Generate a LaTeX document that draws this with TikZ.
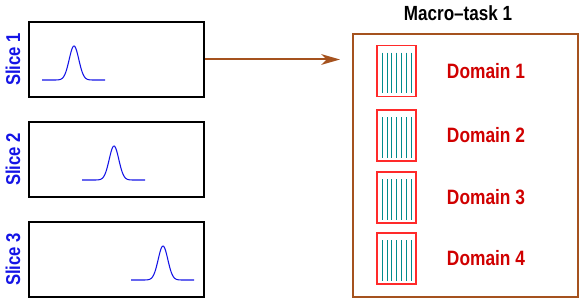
\documentclass[tikz,border=0pt]{standalone}
\usepackage{fontspec}
\setmainfont{Liberation Sans}
\usepackage{graphicx}
\usepackage{xcolor}
\usetikzlibrary{arrows.meta}
\definecolor{sliceBlue}{HTML}{1414E6}
\definecolor{taskBrown}{HTML}{A5521E}
\definecolor{domRed}{HTML}{FF2A2A}
\definecolor{domText}{HTML}{D00000}
\definecolor{stripeTeal}{HTML}{008C8C}
\newcommand{\tallText}[1]{\scalebox{1}[1.2]{#1}}

\begin{document}
\begin{tikzpicture}[x=0.75pt,y=-0.75pt]
  \tikzset{
    slicebox/.style={draw=black,line width=1.4pt,minimum width=131.25pt,minimum height=56.25pt,inner sep=0pt},
    slicetag/.style={font=\fontsize{12.5}{14}\selectfont\bfseries,text=sliceBlue,rotate=90,inner sep=0pt},
    pulse/.style={draw=sliceBlue,line width=0.8pt,line join=round},
    macrobox/.style={draw=taskBrown,line width=1.5pt,minimum width=168.75pt,minimum height=197.25pt,inner sep=0pt},
    macrotag/.style={font=\fontsize{12.8}{15}\selectfont\bfseries,inner sep=0pt},
    dombox/.style={draw=domRed,line width=1.4pt,minimum width=29.25pt,minimum height=38.25pt,inner sep=0pt},
    domtag/.style={font=\fontsize{13}{15}\selectfont\bfseries,text=domText,inner sep=0pt},
    stripe/.style={draw=stripeTeal,line width=0.85pt},
    flow/.style={draw=taskBrown,line width=1.5pt,-{Stealth[length=14pt,width=8pt,inset=4pt]},shorten >=9pt}
  }
  \useasboundingbox (0,0) rectangle (581,299);

  \foreach \i/\y/\p in {1/59.5/74,2/159.5/114,3/259.5/163}{
    \node[slicebox] (slice\i) at (116.5,\y) {};
    \node[slicetag] (slicelabel\i) at (13,\y) {\tallText{Slice \i}};
    \draw[pulse] plot[domain=-32:31,samples=90] ({\p+\x},{\y+20.5-34*exp(-\x*\x/46)});
  }

  \node[macrobox] (macro) at (465.5,165.5) {};
  \node[macrotag] (macrolabel) at (458,13) {\tallText{Macro--task 1}};

  \foreach \i/\y in {1/71,2/135.5,3/197.5,4/258.5}{
    \node[dombox] (dom\i) at (396.5,\y) {};
    \node[domtag] (domlabel\i) at (486,\y) {\tallText{Domain \i}};
    \foreach \s in {-3,...,3}
      \draw[stripe] (396.7+4.8*\s,\y-18.3) -- (396.7+4.8*\s,\y+22.3);
  }

  \draw[flow] (slice1.east) -- (macro.west |- slice1.east);
\end{tikzpicture}
\end{document}
